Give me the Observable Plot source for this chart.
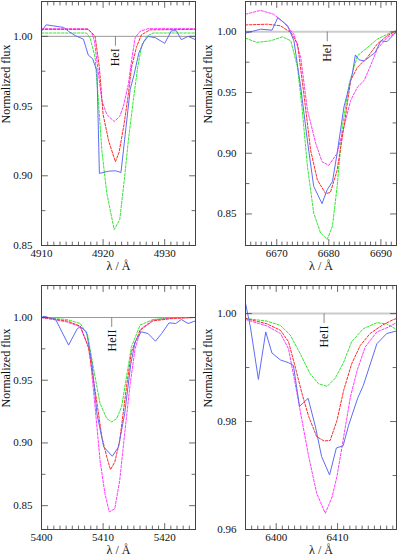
<!DOCTYPE html>
<html><head><meta charset="utf-8">
<script src="https://cdn.jsdelivr.net/npm/d3@7"></script>
<script src="https://cdn.jsdelivr.net/npm/@observablehq/plot@0.6"></script>
<style>
body{margin:0;background:#fff;}
#fig{position:relative;width:399px;height:560px;overflow:hidden;background:#fff;}
</style></head><body><div id="fig"></div>
<script>
// ---------- data ----------
const continuum = 1;
// Panel A: He I 4922
const heI4922Obs = [[4910,1.0036],[4910.75,1.0083],[4913.6,1.0064],[4914.4,1.0036],[4915.5,1.0005],[4916.8,0.998],[4917.6,0.9865],[4918.3,0.984],[4919.0,0.975],[4919.4,0.9017],[4920.9,0.9033],[4922,0.9036],[4922.9,0.9024],[4923.6,0.930],[4924.4,0.962],[4925.0,0.972],[4925.8,0.988],[4926.6,0.996],[4927.3,1.000],[4928.5,0.999],[4930,0.995],[4931.1,1.004],[4931.9,1.004],[4932.7,0.9976],[4933.8,1.000],[4935,0.9976]];
const heI4922Red = [[4910,1.005],[4917.6,1.005],[4918.7,1.000],[4919.4,0.9775],[4920,0.944],[4920.9,0.925],[4922,0.910],[4922.6,0.917],[4923.4,0.937],[4924.1,0.9585],[4924.6,0.9775],[4925.4,0.992],[4926.2,1.001],[4927.6,1.0047],[4935,1.005]];
const heI4922Mag = [[4910,1.0055],[4917.5,1.0055],[4918.2,1.002],[4918.6,0.9965],[4919.2,0.975],[4919.8,0.954],[4920.6,0.944],[4921.8,0.9389],[4922.7,0.9426],[4923.3,0.950],[4924.1,0.9656],[4924.7,0.985],[4925.2,0.999],[4926,1.0036],[4927.3,1.0055],[4935,1.0055]];
const heI4922Grn = [[4910,1.0024],[4917.3,1.0024],[4917.9,0.9988],[4918.7,0.985],[4919.2,0.956],[4919.8,0.918],[4920.6,0.8875],[4921.8,0.8614],[4922.7,0.8685],[4923.5,0.8993],[4924.1,0.9254],[4924.9,0.954],[4925.6,0.9775],[4926.3,0.994],[4927.1,1.000],[4928.1,1.0024],[4935,1.0024]];
// Panel B: He I 6678
const heI6678Obs = [[6664,0.9989],[6666.9,1.0022],[6669.1,1.0014],[6670.2,1.0117],[6672.1,1.005],[6673.3,0.9926],[6674.6,0.9545],[6675.9,0.910],[6677.1,0.8727],[6678.7,0.8585],[6679.7,0.870],[6680.7,0.8767],[6681.6,0.900],[6682.9,0.938],[6684.5,0.965],[6685.1,0.981],[6685.8,0.977],[6686.8,0.976],[6688,0.980],[6688.9,0.983],[6690,0.9926],[6691.2,0.992],[6692.5,0.998],[6693,1.000]];
const heI6678Red = [[6664,1.0057],[6668.2,1.0063],[6670.7,1.005],[6672.7,0.9995],[6674,0.990],[6675.2,0.949],[6676.5,0.9026],[6677.8,0.878],[6679.4,0.8667],[6680.3,0.8677],[6681.6,0.886],[6682.9,0.9217],[6684.2,0.960],[6685.5,0.9708],[6687.4,0.979],[6689.3,0.990],[6691.2,0.9967],[6693,1.0010]];
const heI6678Mag = [[6664,1.0145],[6666.9,1.0177],[6669.4,1.0145],[6671.4,1.0076],[6673.3,0.998],[6674.6,0.979],[6675.9,0.9354],[6677.5,0.908],[6678.7,0.893],[6680,0.890],[6681.6,0.900],[6682.9,0.9217],[6684.2,0.9435],[6685.5,0.9545],[6686.8,0.960],[6688,0.972],[6689.3,0.9858],[6691.2,0.9954],[6693,0.9995]];
const heI6678Grn = [[6664,0.9948],[6666.2,0.9913],[6668.8,0.9926],[6671.1,0.9959],[6672.7,0.9926],[6674,0.9708],[6674.9,0.9354],[6675.9,0.889],[6677.1,0.8508],[6678.4,0.8345],[6679.7,0.829],[6680.7,0.840],[6681.6,0.8727],[6682.6,0.9217],[6683.9,0.957],[6685.5,0.9804],[6687.4,0.987],[6689.3,0.994],[6691.2,0.998],[6693,1.0010]];
// Panel C: He II 5411
const heII5411Obs = [[5400,1.000],[5400.4,1.001],[5402.3,0.9984],[5404.4,0.978],[5405.8,0.991],[5406.3,0.9926],[5407.3,0.9886],[5408.2,0.963],[5409,0.9234],[5410.1,0.8968],[5411.5,0.8894],[5412.5,0.8968],[5413.5,0.9234],[5414.5,0.963],[5415.2,0.9806],[5416.2,0.9886],[5417.3,0.9872],[5418.5,0.9811],[5419.5,0.9872],[5420.7,0.9957],[5421.8,0.9952],[5422.7,0.9984],[5423.8,0.9952],[5425,0.9973]];
const heII5411Red = [[5400,1.000],[5404.1,0.9973],[5406.3,0.9931],[5407.6,0.9766],[5408.7,0.942],[5409.8,0.9048],[5410.6,0.8888],[5411.2,0.8787],[5411.9,0.8848],[5412.7,0.902],[5413.8,0.9447],[5414.6,0.9726],[5416,0.9899],[5418.1,0.9973],[5421.3,0.9992],[5425,1.000]];
const heII5411Mag = [[5400,1.000],[5404.1,0.9965],[5406.3,0.9926],[5407.8,0.9739],[5408.7,0.9287],[5409.5,0.8862],[5410.3,0.8596],[5411,0.845],[5411.9,0.8476],[5412.7,0.8702],[5413.5,0.9074],[5414.4,0.9473],[5415.2,0.9753],[5416.2,0.9912],[5418.1,0.9979],[5421.3,0.9997],[5425,1.000]];
const heII5411Grn = [[5400,1.000],[5404.1,0.9984],[5406.3,0.9952],[5407.5,0.9859],[5408.4,0.9606],[5409.5,0.9314],[5410.6,0.9194],[5411.4,0.9168],[5412.2,0.9194],[5413,0.9287],[5413.8,0.9527],[5414.6,0.9766],[5416,0.9939],[5418.1,0.9984],[5421.3,1.000],[5425,1.000]];
// Panel D: He II 6406
const heII6406Obs = [[6394.95,1.0022],[6395.8,0.9975],[6397.1,0.9878],[6398.3,0.9966],[6399.3,0.9927],[6400.7,0.9914],[6402,0.9909],[6402.8,0.9904],[6403.8,0.9828],[6405.2,0.9843],[6406.4,0.979],[6407.4,0.9735],[6408.7,0.9701],[6409.8,0.9751],[6410.9,0.9755],[6411.8,0.9793],[6413.3,0.9844],[6414.2,0.9867],[6416.4,0.9944],[6418,0.9963],[6420,0.9969]];
const heII6406Red = [[6395,0.9991],[6398.5,0.9981],[6400.7,0.9969],[6402,0.9948],[6403.1,0.9901],[6404.2,0.9852],[6405.3,0.9809],[6406.6,0.9772],[6407.8,0.9764],[6408.8,0.9765],[6409.9,0.9802],[6411,0.9858],[6412.3,0.9907],[6413.7,0.9941],[6415.3,0.9963],[6417.2,0.9978],[6419.1,0.9989],[6420,0.9992]];
const heII6406Mag = [[6395,0.9989],[6398.5,0.9977],[6400.7,0.9963],[6402,0.9935],[6403.1,0.987],[6404.2,0.9802],[6405.3,0.9735],[6406.6,0.9667],[6408,0.963],[6409.1,0.966],[6409.9,0.9698],[6411,0.9772],[6412.1,0.9846],[6413.2,0.9895],[6414.5,0.9938],[6416.4,0.9966],[6418.3,0.9975],[6420,0.9986]];
const heII6406Grn = [[6395,0.9991],[6398.5,0.9986],[6400.7,0.9978],[6402.3,0.996],[6403.9,0.9926],[6405.5,0.9889],[6406.9,0.987],[6408.3,0.9865],[6409.6,0.988],[6411,0.991],[6412.3,0.9948],[6414.2,0.9972],[6416.4,0.9983],[6418,0.9981],[6420,0.9968]];
// tick labels
const xTicksA = [4910, 4920, 4930];
const xTicksB = [6670, 6680, 6690];
const xTicksC = [5400, 5410, 5420];
const xTicksD = [6400, 6410];
const yTicksABC = [0.85, 0.90, 0.95, 1.00];
const yTicksD = [0.96, 0.98, 1.00];
const lineA = [{name: "HeI", lambda: 4922.0}];
const lineB = [{name: "HeI", lambda: 6679.7}];
const lineC = [{name: "HeII", lambda: 5411.4}];
const lineD = [{name: "HeII", lambda: 6407.8}];
const xTitle = "λ / Å";
const yTitle = "Normalized flux";

// ---------- drawing ----------
const FONT = "Liberation Serif";
const frameColor = "#444";
const colors = {obs: "#5f6cf5", red: "#ff2b2b", mag: "#ff3cff", grn: "#33e633"};
const tickShape = {draw(context, l) { context.moveTo(0, 0); context.lineTo(0, -l); }};
function edgeTicks(values, dim, side, len) {
  const rot = {bottom: 0, top: 180, left: 90, right: -90}[side];
  return Plot.vector(values, {[dim]: d => d, frameAnchor: side, length: len, rotate: rot, anchor: "start",
    shape: tickShape, stroke: frameColor, strokeWidth: 0.8});
}
function panel(cfg) {
  const {left, top, width, height, m, xDomain, yDomain, xTicks, xMinorStep, yTicks, yMinor, lines, refW, refC, series, yTitleDx} = cfg;
  const xMinor = d3.range(Math.ceil(xDomain[0]), xDomain[1] + 1e-9, xMinorStep).filter(v => !xTicks.includes(v));
  const marks = [
    Plot.ruleY([continuum], {stroke: refC, strokeWidth: refW}),
    ...series.map(s => Plot.line(s.data, {x: d => d[0], y: d => d[1], stroke: s.color, strokeWidth: 1,
      strokeDasharray: s.dash ? "2.5,1.5" : null, clip: true})),
    Plot.vector(lines, {x: d => d.lambda, y: () => continuum, length: 9, rotate: 180, anchor: "start", shape: tickShape, stroke: "#888", strokeWidth: 1}),
    Plot.text(lines, {x: d => d.lambda, y: () => continuum, text: d => d.name, rotate: -90, textAnchor: "end", dy: 12, fontSize: 12, fontFamily: FONT, fill: "#111"}),
    Plot.frame({stroke: frameColor, strokeWidth: 1}),
    edgeTicks(xTicks, "x", "bottom", 6), edgeTicks(xTicks, "x", "top", 6),
    edgeTicks(xMinor, "x", "bottom", 3.5), edgeTicks(xMinor, "x", "top", 3.5),
    edgeTicks(yTicks, "y", "left", 6), edgeTicks(yTicks, "y", "right", 6),
    edgeTicks(yMinor, "y", "left", 3.5), edgeTicks(yMinor, "y", "right", 3.5),
    Plot.axisX(xTicks, {tickSize: 0, tickPadding: 4, tickFormat: d => String(d), label: null, fontSize: 11, fontFamily: FONT, fill: "#111"}),
    Plot.axisY(yTicks, {tickSize: 0, tickPadding: 9, tickFormat: d3.format(".2f"), label: null, fontSize: 11, fontFamily: FONT, fill: "#111"}),
    Plot.text([xTitle], {frameAnchor: "bottom", dy: 24, fontSize: 12, fontFamily: FONT, fill: "#111"}),
    Plot.text([yTitle], {frameAnchor: "left", dx: yTitleDx, rotate: -90, fontSize: 12, fontFamily: FONT, fill: "#111"})
  ];
  const svg = Plot.plot({
    width, height, marginLeft: m[3], marginRight: m[1], marginTop: m[0], marginBottom: m[2],
    x: {domain: xDomain}, y: {domain: yDomain},
    marks
  });
  svg.style.left = left + "px"; svg.style.top = top + "px"; svg.style.position = "absolute";
  svg.style.background = "transparent"; svg.style.overflow = "visible";
  document.getElementById("fig").appendChild(svg);
}
const S = (obs, red, mag, grn) => [
  {data: grn, color: colors.grn, dash: true},
  {data: mag, color: colors.mag, dash: true},
  {data: red, color: colors.red, dash: true},
  {data: obs, color: colors.obs, dash: false}
];
panel({left: 0, top: 0, width: 200, height: 280, m: [1, 5, 35, 41], xDomain: [4910, 4935], yDomain: [0.85, 1.025],
  xTicks: xTicksA, xMinorStep: 1, yTicks: yTicksABC, yMinor: [0.875, 0.925, 0.975], lines: lineA, refW: 1, refC: "#999",
  series: S(heI4922Obs, heI4922Red, heI4922Mag, heI4922Grn), yTitleDx: -35});
panel({left: 200, top: 0, width: 199, height: 280, m: [1, 3, 35, 45], xDomain: [6664, 6693], yDomain: [0.824, 1.025],
  xTicks: xTicksB, xMinorStep: 1, yTicks: yTicksABC, yMinor: [0.875, 0.925, 0.975], lines: lineB, refW: 2, refC: "#ccc",
  series: S(heI6678Obs, heI6678Red, heI6678Mag, heI6678Grn), yTitleDx: -37});
panel({left: 0, top: 280, width: 200, height: 280, m: [5, 5, 31, 41], xDomain: [5400, 5425], yDomain: [0.831, 1.0255],
  xTicks: xTicksC, xMinorStep: 1, yTicks: yTicksABC, yMinor: [0.875, 0.925, 0.975], lines: lineC, refW: 1, refC: "#999",
  series: S(heII5411Obs, heII5411Red, heII5411Mag, heII5411Grn), yTitleDx: -35});
panel({left: 200, top: 280, width: 199, height: 280, m: [5, 3, 31, 45], xDomain: [6395, 6419.6], yDomain: [0.96, 1.0052],
  xTicks: xTicksD, xMinorStep: 1, yTicks: yTicksD, yMinor: [0.97, 0.99], lines: lineD, refW: 2, refC: "#ccc",
  series: S(heII6406Obs, heII6406Red, heII6406Mag, heII6406Grn), yTitleDx: -37});
</script></body></html>
